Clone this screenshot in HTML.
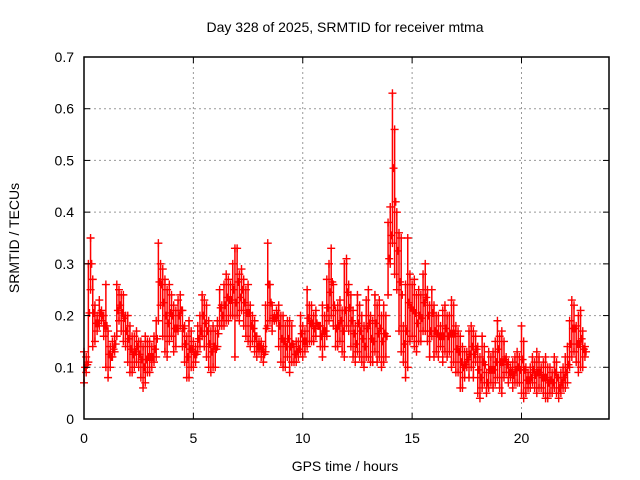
<!DOCTYPE html>
<html><head><meta charset="utf-8"><style>
body{margin:0;background:#fff}
svg{display:block;font-family:"Liberation Sans",sans-serif}
</style></head><body>
<svg id="chart" width="640" height="480" xmlns="http://www.w3.org/2000/svg">
<rect width="640" height="480" fill="#fff"/>
<text x="345" y="32" font-size="14" text-anchor="middle">Day 328 of 2025, SRMTID for receiver mtma</text>
<text x="345" y="471" font-size="14" text-anchor="middle">GPS time / hours</text>
<text transform="translate(19,238) rotate(-90)" font-size="14" text-anchor="middle">SRMTID / TECUs</text>
<g id="grid"></g><g id="marks"></g><g id="axes"></g>
</svg>
<script>
const xTicks=[0,5,10,15,20];
const yTicks=[0,0.1,0.2,0.3,0.4,0.5,0.6,0.7];
const hiVals=[
.13,.12,.30,.35,.27,.22,.20,.23,.21,.20,
.26,.17,.14,.15,.16,.26,.25,.24,.24,.20,
.20,.18,.16,.16,.17,.15,.15,.14,.16,.15,
.15,.14,.16,.19,.34,.30,.29,.27,.25,.26,
.24,.22,.21,.23,.24,.21,.18,.16,.19,.17,
.15,.14,.18,.20,.24,.23,.22,.19,.17,.18,
.17,.19,.25,.22,.26,.28,.27,.26,.30,.33,
.33,.28,.29,.27,.25,.26,.22,.20,.19,.16,
.15,.15,.14,.22,.34,.26,.22,.20,.21,.22,
.20,.20,.18,.19,.19,.18,.14,.15,.15,.20,
.18,.17,.25,.22,.22,.20,.21,.18,.18,.22,
.20,.27,.30,.33,.26,.21,.22,.23,.21,.30,
.31,.26,.24,.21,.18,.24,.22,.20,.18,.23,
.25,.20,.19,.24,.22,.23,.20,.22,.20,.38,
.41,.63,.56,.40,.36,.35,.18,.26,.35,.28,
.26,.27,.24,.25,.24,.28,.30,.25,.22,.25,
.22,.20,.20,.18,.21,.22,.20,.20,.23,.22,
.18,.17,.16,.14,.13,.13,.17,.18,.17,.16,
.14,.12,.16,.14,.09,.13,.12,.13,.15,.19,
.16,.17,.15,.12,.11,.10,.11,.12,.13,.12,
.18,.15,.10,.09,.10,.12,.11,.13,.12,.10,
.11,.12,.10,.10,.09,.12,.11,.08,.09,.10,
.12,.14,.19,.23,.22,.18,.20,.21,.17,.14];
const loVals=[
.07,.09,.11,.25,.14,.15,.17,.18,.19,.16,
.10,.08,.10,.12,.13,.16,.19,.17,.15,.14,
.11,.09,.09,.10,.11,.10,.08,.06,.07,.09,
.09,.10,.11,.12,.19,.22,.16,.13,.12,.15,
.16,.13,.14,.17,.18,.14,.11,.08,.08,.10,
.10,.11,.13,.14,.16,.14,.12,.10,.09,.10,
.10,.14,.18,.18,.18,.19,.19,.20,.20,.12,
.20,.19,.21,.18,.16,.15,.14,.15,.13,.12,
.13,.12,.11,.13,.18,.19,.17,.19,.19,.14,
.11,.10,.10,.12,.09,.11,.11,.11,.12,.13,
.12,.13,.14,.15,.15,.15,.16,.18,.14,.12,
.14,.16,.19,.20,.18,.14,.14,.15,.13,.12,
.18,.17,.14,.12,.11,.13,.12,.11,.10,.12,
.12,.11,.11,.13,.11,.12,.10,.11,.12,.24,
.30,.34,.28,.25,.17,.13,.11,.08,.10,.15,
.16,.14,.13,.15,.15,.17,.17,.15,.12,.16,
.12,.13,.12,.14,.11,.13,.12,.13,.10,.11,
.09,.09,.06,.06,.08,.10,.08,.10,.08,.11,
.05,.04,.06,.07,.05,.06,.07,.06,.07,.08,
.06,.05,.08,.09,.07,.08,.06,.07,.07,.07,
.05,.04,.05,.06,.06,.07,.06,.05,.06,.06,
.05,.04,.04,.05,.05,.06,.05,.04,.05,.06,
.06,.07,.10,.12,.13,.11,.09,.10,.10,.12];
const timeStep=0.1;
const X0=84,X1=609,Y0=419,Y1=57;
const xs=v=>X0+(v/24)*(X1-X0);
const ys=v=>Y0-(v/0.7)*(Y0-Y1);
const NS='http://www.w3.org/2000/svg';
function mk(tag,attrs,parent){const e=document.createElementNS(NS,tag);for(const k in attrs)e.setAttribute(k,attrs[k]);parent.appendChild(e);return e;}
const grid=document.getElementById('grid'),axes=document.getElementById('axes'),marks=document.getElementById('marks');
xTicks.forEach(t=>{
 const x=xs(t);
 if(t>0){const g=mk('line',{x1:x,x2:x,y1:Y1,y2:Y0,stroke:'#999','stroke-dasharray':'2,3'},grid);
 
 }
 mk('line',{x1:x,x2:x,y1:Y0,y2:Y0-6,stroke:'#000'},axes);
 mk('line',{x1:x,x2:x,y1:Y1,y2:Y1+6,stroke:'#000'},axes);
 const l=mk('text',{x:x,y:Y0+24,'font-size':14,'text-anchor':'middle'},axes);l.textContent=t;
 
 
});
yTicks.forEach(t=>{
 const y=ys(t);
 if(t>0&&t<0.7){const g=mk('line',{x1:X0,x2:X1,y1:y,y2:y,stroke:'#999','stroke-dasharray':'2,3'},grid);
 
 }
 mk('line',{x1:X0,x2:X0+6,y1:y,y2:y,stroke:'#000'},axes);
 mk('line',{x1:X1,x2:X1-6,y1:y,y2:y,stroke:'#000'},axes);
 const l=mk('text',{x:X0-10,y:y+5,'font-size':14,'text-anchor':'end'},axes);l.textContent=t===0?'0':t.toFixed(1);
 
 
});
const frame=mk('rect',{x:X0,y:Y1,width:X1-X0,height:Y0-Y1,fill:'none',stroke:'#000','stroke-width':1.5},axes);


function plus(x,y){
 const p=mk('path',{d:`M${x-4},${y}h8M${x},${y-4}v8`,stroke:'#f00','stroke-width':1.4,fill:'none'},marks);
 
 
}
hiVals.forEach((h,i)=>{
 const t=i*timeStep,lo=loVals[i];
 const x=xs(t);
 const r=mk('line',{x1:x,x2:x,y1:ys(h),y2:ys(lo),stroke:'#f00','stroke-width':1.5},marks);
 
 
 plus(x,ys(h));plus(x,ys(lo));
 plus(xs(t+timeStep/2),ys((h+lo)/2));
});
</script>
</body></html>
